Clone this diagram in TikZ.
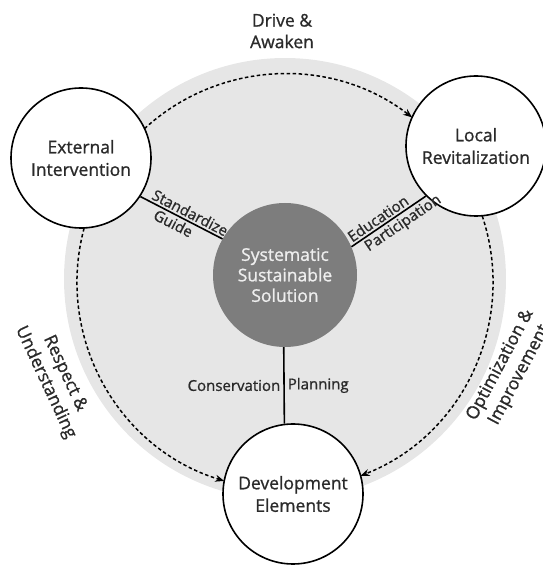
\documentclass[tikz,border=0pt]{standalone}
\usepackage{fontspec}
\setmainfont{Open Sans}[FakeBold=1.0]
\usetikzlibrary{arrows.meta}
\definecolor{txt}{HTML}{2A2A2A}
\definecolor{bgray}{HTML}{E6E6E6}
\definecolor{coregray}{HTML}{7D7D7D}
\definecolor{coretxt}{HTML}{EEEEEE}
\begin{document}
\begin{tikzpicture}[x=1pt,y=1pt,
  bignode/.style={circle,draw=black,line width=1.6pt,fill=white,minimum size=140pt,inner sep=0pt,align=center,font=\fontsize{17.5}{22.5}\selectfont,text=txt},
  corenode/.style={circle,fill=coregray,minimum size=144pt,inner sep=0pt,align=center,font=\fontsize{17.5}{20.5}\selectfont,text=coretxt},
  conn/.style={line width=1.6pt,draw=black},
  lab/.style={font=\fontsize{15}{17}\selectfont,text=txt,inner sep=2pt},
  outer/.style={font=\fontsize{17.5}{21.5}\selectfont,text=txt,align=center,inner sep=0pt},
  flowarc/.style={line width=1.5pt,dash pattern=on 3.5pt off 2.5pt,-{Stealth[length=9pt,width=7pt]}}]
\useasboundingbox (0,0) rectangle (542,566);
\fill[bgray] (285,287) circle (221);
\coordinate (G) at (285,284);
\node[bignode] (EI) at (81,408) {External\\Intervention};
\node[bignode] (LR) at (476,420) {Local\\Revitalization};
\node[bignode] (DE) at (293,72) {Development\\Elements};
\node[corenode] (S) at (285,291) {Systematic\\Sustainable\\Solution};
% dashed flow arcs
\draw[flowarc] (G) ++(132.5:208) arc[start angle=132.5,end angle=52.3,radius=208];
\draw[flowarc] (G) ++(165:208) arc[start angle=165,end angle=253,radius=208];
\draw[flowarc] (G) ++(18.5:208) arc[start angle=18.5,end angle=-68.7,radius=208];
% solid connectors
\draw[conn] (EI.-33) -- node[lab,sloped,above,pos=0.56]{Standardize} node[lab,sloped,below,pos=0.45]{Guide} (S.150);
\draw[conn] (S.23) -- node[lab,sloped,above,pos=0.42]{Education} node[lab,sloped,below,pos=0.62]{Participation} (LR.225);
\draw[conn] (S.-91) -- node[lab,left,pos=0.5,inner sep=3pt]{Conservation} node[lab,right,pos=0.5,inner sep=3pt]{Planning} (DE.97);
% outer labels
\node[outer] (DA) at (282,535) {Drive \&\\Awaken};
\node[outer,rotate=-65] (RU) at (55,188) {Respect \&\\Understanding};
\node[outer,rotate=62] (OI) at (510,196) {Optimization \&\\Improvement};
\end{tikzpicture}
\end{document}
